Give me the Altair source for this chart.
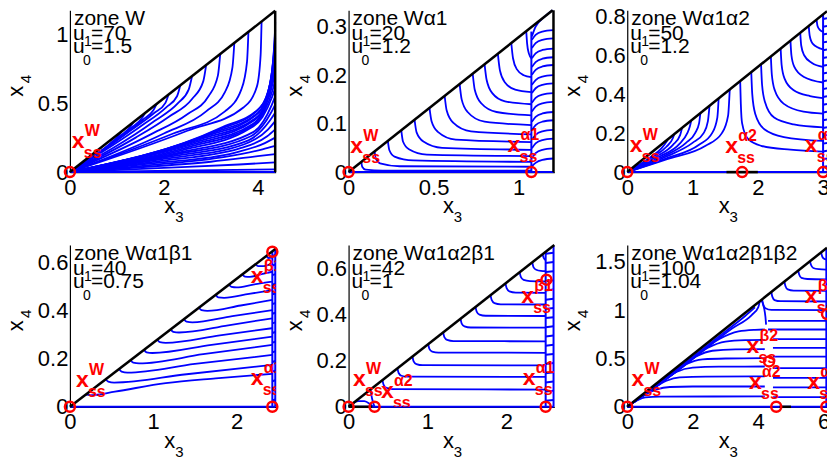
import altair as alt
import pandas as pd

FONT = "Liberation Sans"
BLUE = "#0000ff"
RED = "#ff0000"

ZONE_TEXT = ["zone W", "zone Wα1", "zone Wα1α2", "zone Wα1β1", "zone Wα1α2β1", "zone Wα1α2β1β2"]
U_TEXT = ["=70", "=20", "=50", "=40", "=42", "=100"]
U01_TEXT = ["=1.5", "=1.2", "=1.2", "=0.75", "=1", "=1.04"]
X_MAX = [4.38, 1.21, 3.06, 2.47, 2.61, 6.1]
Y_MAX = [1.174, 0.334, 0.831, 0.671, 0.704, 1.675]
X_TICKS = [[0, 2, 4], [0, 0.5, 1], [0, 1, 2, 3], [0, 1, 2], [0, 1, 2], [0, 2, 4, 6]]
Y_TICKS = [[0, 0.5, 1], [0, 0.1, 0.2, 0.3], [0, 0.2, 0.4, 0.6, 0.8], [0, 0.2, 0.4, 0.6],
           [0, 0.2, 0.4, 0.6], [0, 0.5, 1, 1.5]]
WIDTHS = [206, 206, 200, 206, 206, 200]
HEIGHT = 162

# ---- trajectories (x y pairs) ----
P1_CURVES = [
    "4.37 .02, 2.2 .01, 0 0",
    "4.37 .07, 3.6 .055, 2.0 .03, 0 0",
    "4.37 .13, 4.0 .115, 3.0 .075, 1.5 .035, 0 0",
    "4.37 .19, 4.1 .165, 3.3 .11, 1.7 .05, 0 0",
    "4.37 .25, 4.15 .21, 3.5 .14, 1.8 .065, 0 0",
    "4.37 .31, 4.2 .26, 3.6 .17, 1.9 .08, 0 0",
    "4.37 .37, 4.22 .31, 3.7 .2, 2.0 .095, 0 0",
    "4.37 .43, 4.25 .37, 3.8 .23, 2.1 .11, 0 0",
    "4.37 .49, 4.28 .43, 3.85 .26, 2.2 .125, 0 0",
    "4.37 .55, 4.3 .49, 3.9 .29, 2.3 .14, 0 0",
    "4.37 .61, 4.31 .55, 4.1 .4, 3.8 .31, 2.4 .16, 0 0",
    "4.37 .67, 4.32 .6, 4.12 .43, 3.85 .33, 2.5 .18, 0 0",
    "4.37 .73, 4.33 .66, 4.14 .46, 3.9 .35, 2.6 .2, 0 0",
    "4.37 .79, 4.34 .72, 4.16 .49, 3.9 .37, 2.7 .22, 0 0",
    "4.37 .85, 4.345 .78, 4.18 .52, 3.95 .39, 2.8 .24, 0 0",
    "4.37 .91, 4.35 .84, 4.2 .55, 3.95 .41, 2.9 .26, 0 0",
    "4.37 .97, 4.355 .9, 4.22 .58, 4.0 .43, 3.0 .28, 0 0",
    "4.37 1.03, 4.36 .96, 4.24 .61, 4.0 .45, 3.1 .30, 0 0",
    "4.37 1.09, 4.365 1.02, 4.26 .64, 4.05 .47, 3.2 .32, 0 0",
    "4.08 1.093, 4.06 .85, 3.98 .62, 3.7 .47, 2.5 .3, 0 0",
    "3.8 1.018, 3.77 .8, 3.65 .6, 3.3 .44, 2.2 .28, 0 0",
    "3.5 .938, 3.46 .76, 3.3 .58, 2.9 .44, 2.0 .28, 0 0",
    "3.2 .858, 3.15 .7, 2.95 .55, 2.5 .42, 1.7 .27, 0 0",
    "2.9 .777, 2.84 .66, 2.6 .53, 2.1 .4, 1.4 .25, 0 0",
    "2.6 .697, 2.53 .6, 2.3 .5, 1.8 .37, 0 0",
    "2.35 .63, 2.28 .55, 2.05 .47, 1.5 .33, 0 0",
    "2.1 .563, 2.03 .5, 1.8 .43, 1.2 .28, 0 0",
    "1.85 .496, 1.78 .45, 1.55 .38, 0 0",
    "1.6 .429, 1.53 .39, 1.3 .32, 0 0",
    "1.35 .362, 1.29 .33, 1.1 .27, 0 0",
    "1.1 .295, 1.05 .27, 0.9 .22, 0 0",
]
P2_CURVES = [
    "1.045 .29, 1.05 .265, 1.06 .245, 1.075 .235",
    "0.957 .266, 0.967 .235, 0.99 .212, 1.03 .2, 1.075 .196",
    "0.878 .244, 0.89 .21, 0.92 .185, 0.98 .17, 1.075 .165",
    "0.8 .222, 0.812 .19, 0.845 .163, 0.92 .146, 1.075 .14",
    "0.73 .203, 0.742 .17, 0.78 .142, 0.87 .124, 1.075 .117",
    "0.653 .182, 0.665 .15, 0.7 .124, 0.8 .104, 1.075 .097",
    "0.565 .157, 0.577 .127, 0.615 .102, 0.72 .084, 1.075 .078",
    "0.476 .132, 0.488 .105, 0.525 .083, 0.63 .067, 1.075 .062",
    "0.388 .108, 0.4 .082, 0.44 .063, 0.55 .05, 1.075 .046",
    "0.31 .086, 0.32 .063, 0.355 .047, 0.46 .036, 1.075 .033",
    "0.231 .064, 0.24 .045, 0.27 .032, 0.38 .024, 1.075 .021",
    "0.153 .043, 0.16 .028, 0.185 .018, 0.3 .012, 1.075 .011",
    "0.075 .021, 0.08 .011, 0.1 .005, 0.2 .003, 1.075 .003",
    "1.078 .28, 1.1 .3, 1.15 .32, 1.2 .334",
    "1.078 .273, 1.1 .283, 1.14 .29, 1.205 .293",
    "1.078 .256, 1.1 .266, 1.14 .273, 1.205 .276",
    "1.078 .235, 1.1 .245, 1.14 .252, 1.205 .255",
    "1.078 .217, 1.1 .227, 1.14 .234, 1.205 .237",
    "1.078 .201, 1.1 .211, 1.14 .218, 1.205 .221",
    "1.078 .18, 1.1 .19, 1.14 .197, 1.205 .2",
    "1.078 .163, 1.1 .173, 1.14 .18, 1.205 .183",
    "1.078 .143, 1.1 .153, 1.14 .16, 1.205 .163",
    "1.078 .125, 1.1 .135, 1.14 .142, 1.205 .145",
    "1.078 .104, 1.1 .114, 1.14 .121, 1.205 .124",
    "1.078 .087, 1.1 .097, 1.14 .104, 1.205 .107",
    "1.078 .067, 1.1 .077, 1.14 .084, 1.205 .087",
    "1.078 .049, 1.1 .059, 1.14 .066, 1.205 .069",
    "1.078 .029, 1.1 .039, 1.14 .046, 1.205 .049",
    "1.078 .012, 1.1 .019, 1.14 .025, 1.205 .028",
]
P3_CURVES = [
    "0 0, 0.6 .065, 1.2 .135, 1.45 .2, 1.545 .29, 1.57 .424",
    "0 0, 0.6 .07, 1.1 .14, 1.3 .2, 1.38 .28, 1.4 .378",
    "0 0, 0.6 .08, 1.0 .15, 1.17 .2, 1.235 .26, 1.26 .34",
    "0 0, 0.55 .08, 0.9 .15, 1.04 .2, 1.1 .25, 1.12 .302",
    "0 0, 0.5 .08, 0.8 .145, 0.92 .2, 0.96 .235, 0.98 .265",
    "0 0, 0.45 .08, 0.7 .14, 0.81 .19, 0.84 .227",
    "0 0, 0.4 .08, 0.6 .13, 0.7 .175, 0.72 .194",
    "0 0, 0.35 .075, 0.52 .12, 0.6 .155, 0.62 .167",
    "1.73 .467, 1.74 .35, 1.76 .25, 1.85 .17, 2.05 .135, 2.5 .115, 3.0 .105",
    "1.9 .513, 1.915 .4, 1.96 .3, 2.1 .22, 2.4 .18, 3.0 .16",
    "2.05 .553, 2.065 .45, 2.11 .36, 2.25 .28, 2.55 .245, 3.0 .23",
    "2.2 .594, 2.215 .5, 2.26 .42, 2.4 .35, 2.7 .31, 3.0 .3",
    "2.35 .634, 2.365 .55, 2.41 .48, 2.55 .42, 2.8 .39, 3.0 .38",
    "2.5 .675, 2.515 .6, 2.56 .54, 2.7 .49, 3.0 .46",
    "2.65 .715, 2.665 .65, 2.71 .6, 2.83 .56, 3.0 .54",
    "2.78 .75, 2.795 .7, 2.84 .66, 3.0 .63",
    "2.9 .783, 2.915 .75, 2.95 .73, 3.0 .72",
]
P4_CURVES = [
    "0.19 .05, 0.25 .048, 0.54 .063, 1.15 .098, 1.75 .118, 2.43 .137",
    "0.43 .114, 0.46 .104, 0.53 .1, 1.4 .135, 2.43 .174",
    "0.59 .156, 0.62 .146, 0.69 .142, 1.5 .178, 2.43 .215",
    "0.73 .193, 0.76 .183, 0.83 .18, 1.6 .218, 2.43 .257",
    "0.89 .236, 0.92 .226, 0.99 .223, 1.7 .257, 2.43 .291",
    "1.05 .278, 1.08 .268, 1.15 .265, 1.8 .296, 2.43 .326",
    "1.21 .321, 1.24 .311, 1.31 .308, 1.9 .338, 2.43 .367",
    "1.37 .363, 1.4 .353, 1.47 .35, 1.95 .376, 2.43 .401",
    "1.55 .411, 1.58 .401, 1.65 .398, 2.05 .42, 2.43 .443",
    "1.75 .464, 1.78 .454, 1.85 .452, 2.15 .468, 2.43 .484",
    "1.91 .506, 1.94 .497, 2.0 .495, 2.2 .507, 2.43 .519",
    "2.07 .549, 2.1 .54, 2.16 .539, 2.3 .55, 2.43 .56",
    "2.23 .591, 2.26 .583, 2.32 .583, 2.43 .595",
    "2.36 .625, 2.38 .617, 2.43 .62",
]
P5_CURVES = [
    "0.43 .116, 0.445 .095, 0.48 .082, 0.56 .077, 2.5 .075",
    "0.62 .167, 0.635 .147, 0.67 .135, 0.75 .131, 2.5 .13",
    "0.81 .219, 0.825 .198, 0.86 .186, 0.94 .181, 2.5 .18",
    "1.01 .273, 1.025 .252, 1.06 .24, 1.14 .236, 2.5 .235",
    "1.2 .324, 1.215 .303, 1.25 .291, 1.33 .286, 2.5 .285",
    "1.42 .383, 1.435 .362, 1.47 .35, 1.55 .345, 2.5 .344",
    "1.61 .435, 1.625 .414, 1.66 .401, 1.74 .396, 2.5 .395",
    "1.8 .486, 1.815 .465, 1.85 .451, 1.93 .446, 2.5 .445",
    "1.99 .537, 2.005 .516, 2.04 .502, 2.12 .497, 2.5 .496",
    "2.17 .586, 2.185 .565, 2.22 .552, 2.3 .547, 2.5 .546",
    "2.33 .629, 2.345 .608, 2.38 .596, 2.44 .591, 2.5 .59",
    "2.46 .664, 2.475 .648, 2.5 .638",
    "0.28 .0756, 0.29 .05, 0.31 .02, 0.33 0",
    "0.05 .0135, 0.12 .025, 0.2 .025, 0.27 .012, 0.31 0",
]
P6_CURVES = [
    "0 0, 0.3 .065, 0.55 .097, 1.0 .106, 4.2 .107",
    "0 0, 0.5 .115, 0.9 .18, 1.3 .205, 2.0 .21, 4.2 .21",
    "0 0, 0.7 .165, 1.2 .27, 1.6 .305, 2.4 .313, 4.2 .314",
    "0 0, 0.9 .215, 1.5 .36, 2.0 .405, 2.8 .415, 4.2 .417",
    "0 0, 1.1 .265, 1.8 .44, 2.3 .49, 3.0 .5, 4.2 .503",
    "0 0, 1.3 .315, 2.1 .52, 2.6 .58, 3.3 .594, 4.2 .596",
    "0 0, 1.5 .365, 2.45 .61, 3.0 .675, 3.6 .69, 4.2 .693",
    "0 0, 1.7 .415, 2.8 .7, 3.4 .78, 3.9 .797, 4.2 .80",
    "0 0, 1.9 .47, 3.2 .81, 3.8 .95, 4.0 1.03, 4.05 1.094",
    "0 0, 1.0 .255, 2.0 .515, 3.0 .78, 3.6 .94, 3.9 1.03",
    "4.1 1.105, 4.18 1.02, 4.22 .93, 4.24 .85",
    "4.45 .1, 6.08 .1",
    "4.45 .2, 6.08 .2",
    "4.45 .3, 6.08 .3",
    "4.45 .4, 6.08 .4",
    "4.45 .52, 6.08 .52",
    "4.45 .61, 6.08 .61",
    "4.45 .7, 6.08 .7",
    "4.3 .8, 6.08 .8",
    "4.3 .89, 6.08 .89",
    "4.12 1.112, 4.15 1.06, 4.22 1.02, 4.4 1.003, 6.08 1.0",
    "4.4 1.188, 4.43 1.14, 4.5 1.105, 4.68 1.093, 6.08 1.09",
    "4.8 1.296, 4.83 1.25, 4.9 1.215, 5.08 1.203, 6.08 1.2",
    "5.22 1.409, 5.25 1.37, 5.32 1.335, 5.5 1.323, 6.08 1.32",
    "5.58 1.507, 5.61 1.47, 5.68 1.437, 5.85 1.424, 6.08 1.42",
    "5.92 1.598, 5.95 1.56, 6.0 1.535, 6.08 1.525",
]
# straight blue segments (baseline, vertical steady-state lines, edge stubs)
P_BLUE_SEGS = [
    ["0 0, 4.37 0"],
    ["0 0, 1.205 0", "1.075 0, 1.075 .29"],
    ["0 0, 3.06 0", "3.0 0, 3.0 .81"],
    ["0 0, 2.465 0", "2.43 0, 2.43 .643", "2.465 0, 2.465 .653"],
    ["0 0, 2.6 0", "2.5 0, 2.5 .675", "2.6 0, 2.6 .7"],
    ["0 0, 6.1 0", "6.08 0, 6.08 1.64"],
]
STUB_LEVELS = {
    2: [0.03, 0.07, 0.11, 0.15, 0.19, 0.23, 0.27, 0.31, 0.35, 0.39, 0.43, 0.47, 0.51,
        0.55, 0.59, 0.63, 0.67, 0.71, 0.75, 0.79],
    3: [0.03, 0.07, 0.11, 0.15, 0.19, 0.23, 0.27, 0.31, 0.35, 0.39, 0.43, 0.47, 0.51,
        0.55, 0.59, 0.63],
    4: [0.03, 0.07, 0.11, 0.15, 0.19, 0.23, 0.27, 0.31, 0.35, 0.39, 0.43, 0.47, 0.51,
        0.55, 0.59, 0.63, 0.67],
}
STUB_X = {2: (3.0, 3.06), 3: (2.43, 2.465), 4: (2.5, 2.6)}
# black boundary lines
P_BLACK_SEGS = [
    ["0 0, 4.37 1.17", "4.37 0, 4.37 1.17"],
    ["0 0, 1.2 .334", "1.205 0, 1.205 .334"],
    ["0 0, 3.06 .826", "1.52 0, 2.0 0"],
    ["0 0, 2.47 .655"],
    ["0 0, 2.61 .704", "0 0, 0.3 0"],
    ["0 0, 6.1 1.647", "4.65 0, 5.0 0"],
]
# steady states (red circles)
SS_POINTS = [
    [(0, 0)],
    [(0, 0), (1.075, 0)],
    [(0, 0), (1.76, 0), (3.0, 0)],
    [(0, 0), (2.43, 0), (2.43, 0.643)],
    [(0, 0), (0.33, 0), (2.5, 0), (2.51, 0.553)],
    [(0, 0), (4.55, 0), (6.08, 0), (4.33, 0.47), (6.1, 0.96)],
]
# steady-state labels: (x, y, superscript)
SS_LABELS = [
    [(0.04, 0.174, "W")],
    [(0.01, 0.039, "W"), (0.935, 0.041, "α1")],
    [(0.04, 0.104, "W"), (1.50, 0.097, "α2"), (2.72, 0.104, "α1")],
    [(0.072, 0.084, "W"), (2.17, 0.091, "α1"), (2.17, 0.512, "β1")],
    [(0.055, 0.09, "W"), (0.41, 0.039, "α2"), (2.21, 0.096, "α1"), (2.19, 0.452, "β1")],
    [(0.13, 0.214, "W"), (3.64, 0.558, "β2"), (3.72, 0.18, "α2"), (5.5, 0.18, "α1"),
     (5.42, 1.075, "β1")],
]
ALL_CURVES = [P1_CURVES, P2_CURVES, P3_CURVES, P4_CURVES, P5_CURVES, P6_CURVES]


def parse(s):
    pts = []
    for p in s.split(","):
        a, b = p.split()
        pts.append((float(a), float(b)))
    return pts


def lines_df(curves):
    rows = []
    for cid, s in enumerate(curves):
        for k, (x, y) in enumerate(parse(s)):
            rows.append({"cid": cid, "k": k, "x": x, "y": y})
    return pd.DataFrame(rows)


def enc(i):
    x = alt.X("x:Q", scale=alt.Scale(domain=[0, X_MAX[i]], nice=False, zero=False),
              axis=alt.Axis(values=X_TICKS[i], format="~g", title=None, grid=False,
                            ticks=False, labelPadding=5, labelFlush=False))
    y = alt.Y("y:Q", scale=alt.Scale(domain=[0, Y_MAX[i]], nice=False, zero=False),
              axis=alt.Axis(values=Y_TICKS[i], format="~g", title=None, grid=False,
                            ticks=False, labelPadding=2, labelFlush=False))
    return x, y


def txt(s, px, py, size=21, **kw):
    return alt.Chart(pd.DataFrame({"a": [0]})).mark_text(
        text=s, font=FONT, fontSize=size, align=kw.pop("align", "left"),
        baseline="alphabetic", color="black", **kw
    ).encode(x=alt.value(px), y=alt.value(py))


def panel(i):
    W = WIDTHS[i]
    H = HEIGHT
    x, y = enc(i)
    curves = alt.Chart(lines_df(ALL_CURVES[i])).mark_line(
        color=BLUE, strokeWidth=1.8, interpolate="monotone").encode(x=x, y=y, detail="cid:N")
    segs = list(P_BLUE_SEGS[i])
    if i in STUB_LEVELS:
        x0, x1 = STUB_X[i]
        segs += [f"{x0} {lv - 0.004}, {x1} {lv}" for lv in STUB_LEVELS[i]]
    blue = alt.Chart(lines_df(segs)).mark_line(color=BLUE, strokeWidth=2).encode(
        x=x, y=y, detail="cid:N", order="k:Q")
    black = alt.Chart(lines_df(P_BLACK_SEGS[i])).mark_line(color="black", strokeWidth=2.5).encode(
        x=x, y=y, detail="cid:N", order="k:Q")
    ss = alt.Chart(pd.DataFrame(SS_POINTS[i], columns=["x", "y"])).mark_point(
        shape="circle", filled=False, size=100, strokeWidth=2.5, color=RED, opacity=1).encode(x=x, y=y)
    lab_df = pd.DataFrame(SS_LABELS[i], columns=["x", "y", "sup"])
    labx = alt.Chart(lab_df).mark_text(text="x", font=FONT, fontSize=23, fontWeight="bold",
                                       color=RED, align="left", baseline="alphabetic",
                                       clip=True).encode(x=x, y=y)
    labsup = alt.Chart(lab_df).mark_text(font=FONT, fontSize=16, fontWeight="bold", color=RED,
                                         align="left", baseline="alphabetic", dx=13, dy=-12,
                                         clip=True).encode(x=x, y=y, text="sup:N")
    labsub = alt.Chart(lab_df).mark_text(text="ss", font=FONT, fontSize=16, fontWeight="bold",
                                         color=RED, align="left", baseline="alphabetic",
                                         dx=12, dy=10, clip=True).encode(x=x, y=y)
    texts = [
        txt(ZONE_TEXT[i], 4, 15),
        txt("u", 3, 30),
        txt(U_TEXT[i], 21, 30),
        txt("u", 3, 43),
        txt("1", 14, 36, size=14),
        txt("0", 13, 55, size=14),
        txt(U01_TEXT[i], 21, 43),
        txt("x", W / 2 - 3, H + 41, size=22, align="center"),
        txt("3", W / 2 + 6.5, H + 50, size=15, align="center"),
        txt("x", -47, H / 2, size=22, align="center", angle=270),
        txt("4", -39, H / 2 - 12, size=15, align="center", angle=270),
    ]
    return alt.layer(curves, blue, black, ss, labx, labsup, labsub, *texts).properties(
        width=W, height=H)


chart = alt.concat(*[panel(i) for i in range(6)], columns=3,
                   spacing={"row": 73, "column": 73}, bounds="flush").properties(
    padding={"left": 5, "top": 5, "right": -10, "bottom": 0}
).configure_view(stroke=None).configure_axis(
    labelFont=FONT, labelFontSize=22, labelColor="black", domainColor="black",
    domainWidth=1.2
)

chart.save("out.html", embed_options={"renderer": "svg", "actions": False})
